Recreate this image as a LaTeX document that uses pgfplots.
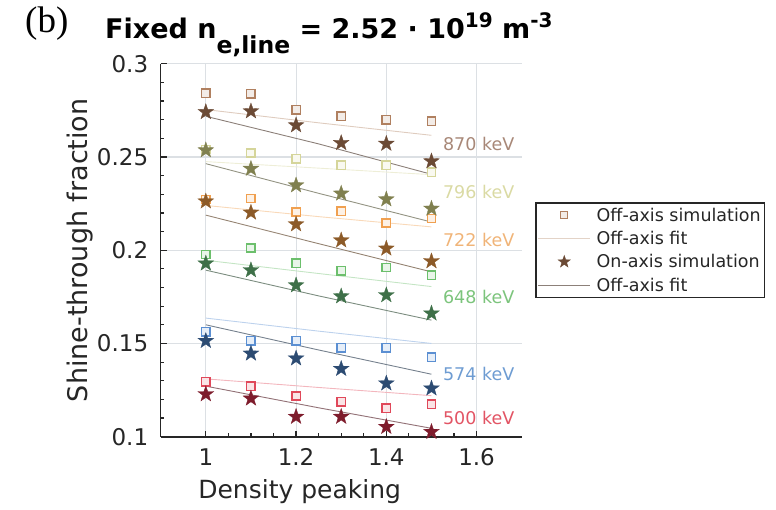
\documentclass[border=0pt]{standalone}
\usepackage{fontspec}
\setmainfont{DejaVu Sans}
\newfontfamily\panelfont{Liberation Serif}
\usepackage{pgfplots}
\pgfplotsset{compat=1.18}
\usepackage{pgfplotstable}

% square colours (off-axis), star colours (on-axis), label colours
\definecolor{sqA}{HTML}{B08060}\definecolor{stA}{HTML}{6B4A35}\definecolor{lbA}{HTML}{A88878}
\definecolor{sqB}{HTML}{D5D59A}\definecolor{stB}{HTML}{80804F}\definecolor{lbB}{HTML}{DADAA4}
\definecolor{sqC}{HTML}{F0A050}\definecolor{stC}{HTML}{8C5A28}\definecolor{lbC}{HTML}{F0B478}
\definecolor{sqD}{HTML}{6CBF6C}\definecolor{stD}{HTML}{3E7048}\definecolor{lbD}{HTML}{7CC47C}
\definecolor{sqE}{HTML}{5B8FD2}\definecolor{stE}{HTML}{2C4B72}\definecolor{lbE}{HTML}{6E9CD2}
\definecolor{sqF}{HTML}{E0485A}\definecolor{stF}{HTML}{7E1C2C}\definecolor{lbF}{HTML}{E25464}
\definecolor{gridc}{HTML}{DCE0E4}
\definecolor{axc}{HTML}{262626}

% filled five-point star
\pgfdeclareplotmark{fstar}{%
  \pgfpathmoveto{\pgfpointpolar{90}{\pgfplotmarksize}}%
  \pgfpathlineto{\pgfpointpolar{126}{0.4\pgfplotmarksize}}%
  \pgfpathlineto{\pgfpointpolar{162}{\pgfplotmarksize}}%
  \pgfpathlineto{\pgfpointpolar{198}{0.4\pgfplotmarksize}}%
  \pgfpathlineto{\pgfpointpolar{234}{\pgfplotmarksize}}%
  \pgfpathlineto{\pgfpointpolar{270}{0.4\pgfplotmarksize}}%
  \pgfpathlineto{\pgfpointpolar{306}{\pgfplotmarksize}}%
  \pgfpathlineto{\pgfpointpolar{342}{0.4\pgfplotmarksize}}%
  \pgfpathlineto{\pgfpointpolar{18}{\pgfplotmarksize}}%
  \pgfpathlineto{\pgfpointpolar{54}{0.4\pgfplotmarksize}}%
  \pgfpathclose
  \pgfusepathqfillstroke}

% simulations: off-axis (sq) and on-axis (st)
\pgfplotstableread{
x   sqA    stA    sqB    stB    sqC    stC    sqD    stD    sqE    stE    sqF    stF
1.0 0.2841 0.2741 0.2540 0.2536 0.2272 0.2262 0.1977 0.1929 0.1562 0.1514 0.1294 0.1228
1.1 0.2839 0.2745 0.2521 0.2437 0.2277 0.2202 0.2012 0.1893 0.1514 0.1446 0.1271 0.1205
1.2 0.2754 0.2670 0.2491 0.2348 0.2205 0.2139 0.1929 0.1812 0.1514 0.1420 0.1218 0.1107
1.3 0.2718 0.2575 0.2455 0.2304 0.2209 0.2053 0.1889 0.1753 0.1478 0.1364 0.1187 0.1107
1.4 0.2700 0.2571 0.2455 0.2273 0.2146 0.2009 0.1907 0.1759 0.1478 0.1286 0.1152 0.1053
1.5 0.2691 0.2477 0.2419 0.2223 0.2170 0.1941 0.1866 0.1661 0.1425 0.1259 0.1175 0.1026
}\simdata

% fits: off-axis (of) and on-axis (on)
\pgfplotstableread{
x    ofA    onA    ofB    onB    ofC    onC    ofD    onD    ofE    onE    ofF    onF
1.0  0.2754 0.2718 0.2475 0.2464 0.2240 0.2188 0.1946 0.1893 0.1636 0.1600 0.1310 0.1271
1.25 0.2683 0.2570 0.2440 0.2305 0.2180 0.2035 0.1875 0.1755 0.1566 0.1465 0.1264 0.1155
1.5  0.2616 0.2407 0.2405 0.2151 0.2125 0.1884 0.1805 0.1625 0.1500 0.1335 0.1220 0.1045
}\fitdata

\begin{document}
\begin{tikzpicture}
\path[use as bounding box] (-160.7pt,-72.3pt) rectangle (615.3pt,436.7pt);
\begin{axis}[
    scale only axis,
    width=361pt, height=373pt,
    xmin=0.9, xmax=1.7, ymin=0.1, ymax=0.3,
    xtick={1,1.2,1.4,1.6}, xticklabels={1,1.2,1.4,1.6},
    ytick={0.1,0.15,0.2,0.25,0.3}, yticklabels={0.1,0.15,0.2,0.25,0.3},
    minor x tick num=3, minor y tick num=4,
    axis lines=left,
    axis line style={-, axc, line width=1.6pt},
    tick align=inside,
    major tick length=6pt, minor tick length=3.5pt,
    tick style={axc, line width=1.2pt},
    grid=major, major grid style={gridc, line width=1.1pt},
    tick label style={font=\fontsize{23}{27}\selectfont, text=axc},
    yticklabel style={xshift=-9pt},
    xticklabel style={yshift=-8pt},
    xlabel={Density peaking},
    xlabel style={at={(axis description cs:0.385,-0.148)}, anchor=center,
        font=\fontsize{25}{30}\selectfont, text=axc},
    ylabel={Shine-through fraction},
    ylabel style={at={(axis description cs:-0.2235,0.5)}, anchor=center,
        font=\fontsize{27}{30}\selectfont, text=axc},
    sqm/.style={only marks, mark=square*, mark size=4.2pt,
        mark options={line width=1.5pt, draw=#1, fill=#1!15}},
    stm/.style={only marks, mark=fstar, mark size=8.3pt,
        mark options={draw=#1, fill=#1, line width=0.3pt}},
    offfit/.style={no markers, line width=0.9pt, draw=#1!40},
    onfit/.style={no markers, line width=0.9pt, draw=#1!40!gray!85},
    legend image code/.code={\draw[mark repeat=2,mark phase=2,#1]
        plot coordinates {(0pt,0pt) (26pt,0pt) (52pt,0pt)};},
    legend style={at={(axis description cs:1.037,0.629)}, anchor=north west,
        draw=axc, line width=1.5pt, fill=white,
        font=\fontsize{17.5}{20}\selectfont, text=axc,
        inner xsep=2pt, inner ysep=3pt, row sep=4.5pt,
        /tikz/every odd column/.append style={column sep=4pt}},
    legend cell align=left,
]
% fits
\pgfplotsinvokeforeach{A,B,C,D,E,F}{
  \addplot[offfit=sq#1, forget plot] table[x=x, y=of#1] {\fitdata};
  \addplot[onfit=st#1, forget plot] table[x=x, y=on#1] {\fitdata};
}
% off-axis simulations
\pgfplotsinvokeforeach{A,B,C,D,E,F}{
  \addplot[sqm=sq#1, forget plot] table[x=x, y=sq#1] {\simdata};
}
% on-axis simulations
\pgfplotsinvokeforeach{A,B,C,D,E,F}{
  \addplot[stm=st#1, forget plot] table[x=x, y=st#1] {\simdata};
}

\addlegendimage{only marks, mark=square*, mark size=3.5pt, mark options={line width=1.3pt, draw=sqA, fill=sqA!15}}
\addlegendentry{Off-axis simulation}
\addlegendimage{no markers, line width=0.9pt, draw=sqA!35}
\addlegendentry{Off-axis fit}
\addlegendimage{only marks, mark=fstar, mark size=6.5pt, mark options={draw=stA, fill=stA, line width=0.3pt}}
\addlegendentry{On-axis simulation}
\addlegendimage{no markers, line width=0.9pt, draw=stA!40!gray!85}
\addlegendentry{Off-axis fit}

\node[anchor=west, text=lbA, font=\fontsize{17.5}{20}\selectfont] at (axis cs:1.518,0.2571) {870 keV};
\node[anchor=west, text=lbB, font=\fontsize{17.5}{20}\selectfont] at (axis cs:1.518,0.2312) {796 keV};
\node[anchor=west, text=lbC, font=\fontsize{17.5}{20}\selectfont] at (axis cs:1.518,0.2053) {722 keV};
\node[anchor=west, text=lbD, font=\fontsize{17.5}{20}\selectfont] at (axis cs:1.518,0.1750) {648 keV};
\node[anchor=west, text=lbE, font=\fontsize{17.5}{20}\selectfont] at (axis cs:1.518,0.1339) {574 keV};
\node[anchor=west, text=lbF, font=\fontsize{17.5}{20}\selectfont] at (axis cs:1.518,0.1098) {500 keV};
\end{axis}
\node[anchor=base west, inner sep=0pt, font=\panelfont\fontsize{37}{40}\selectfont] at (-135.7pt,403.7pt) {(b)};
\node[anchor=base west, inner sep=0pt, font=\bfseries\fontsize{27}{30}\selectfont] at (-55.7pt,397.7pt)
  {Fixed n\raisebox{-15pt}{\fontsize{23.5}{24}\selectfont e,line} = 2.52 · 10\raisebox{11pt}{\fontsize{20}{22}\selectfont 19} m\raisebox{11pt}{\fontsize{20}{22}\selectfont -3}};
\end{tikzpicture}
\end{document}
